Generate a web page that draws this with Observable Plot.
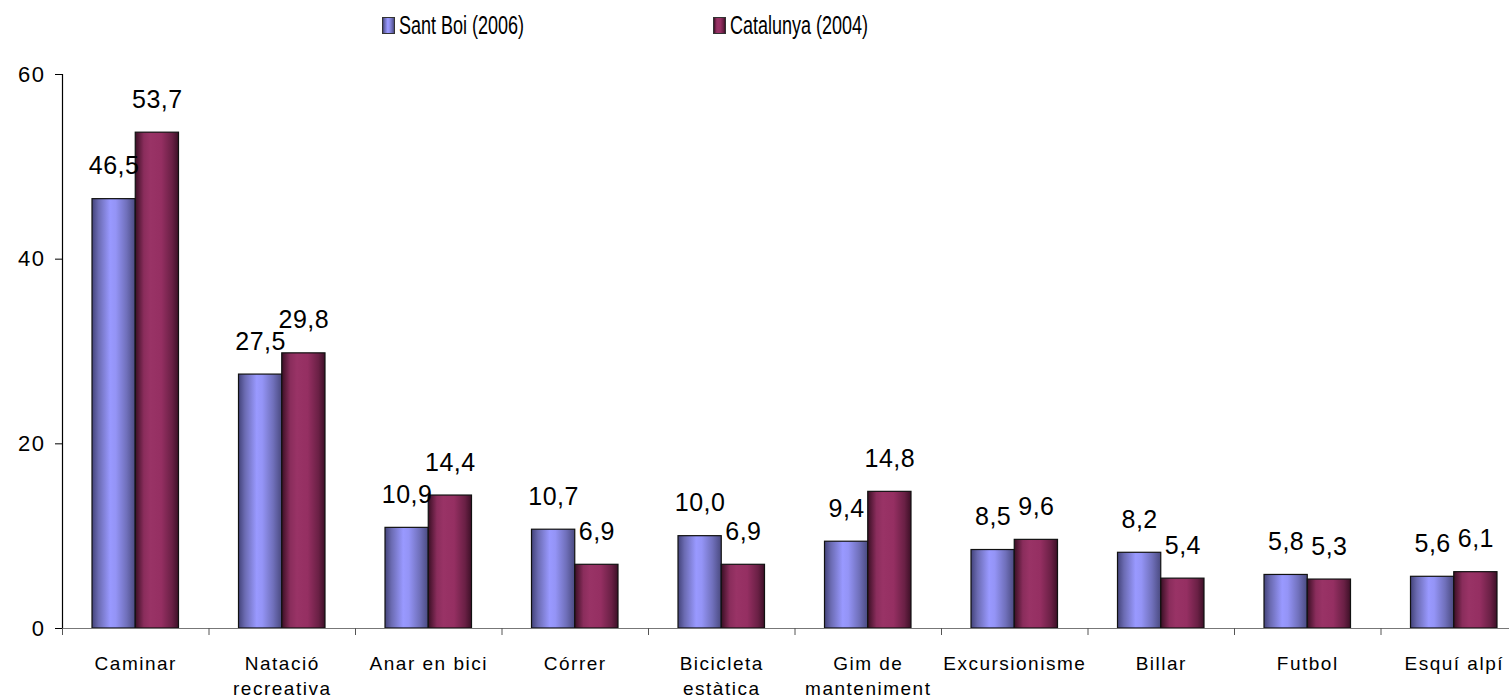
<!DOCTYPE html>
<html>
<head>
<meta charset="utf-8">
<script src="https://cdn.jsdelivr.net/npm/d3@7"></script>
<script src="https://cdn.jsdelivr.net/npm/@observablehq/plot@0.6"></script>
<style>
  html, body { margin: 0; padding: 0; background: #fff; overflow: hidden; }
  body { font-family: "Liberation Sans", Arial, sans-serif; }
  #legend { position: relative; width: 1509px; height: 48px; }
  .lg-item { position: absolute; top: 11px; display: flex; align-items: center; }
  .lg-sw { width: 13px; height: 17px; border: 1px solid #333; box-sizing: border-box; margin-right: 4px; }
  .lg-tx { font-family: "Liberation Sans", Arial, sans-serif; font-size: 25px; color: #000; line-height: 28px;
           transform: scaleX(0.72); transform-origin: left center; white-space: nowrap; }
  #chart svg { max-width: none; overflow: hidden; }
  g[aria-label="x-axis tick label"] text { letter-spacing: 1.5px; }
  g[aria-label="y-axis tick label"] text { letter-spacing: 1.5px; }
  g.vlab text { letter-spacing: 0.5px; }
</style>
</head>
<body>
<div id="legend"></div>
<div id="chart"></div>
<script>
// ---- data ----
const categories = ["Caminar", "Natació\nrecreativa", "Anar en bici", "Córrer", "Bicicleta\nestàtica",
                    "Gim de\nmanteniment", "Excursionisme", "Billar", "Futbol", "Esquí alpí"];
const seriesNames = ["Sant Boi (2006)", "Catalunya (2004)"];
const santBoi   = [46.5, 27.5, 10.9, 10.7, 10.0, 9.4, 8.5, 8.2, 5.8, 5.6];
const catalunya = [53.7, 29.8, 14.4, 6.9, 6.9, 14.8, 9.6, 5.4, 5.3, 6.1];
const yTicks = [0, 20, 40, 60];

// ---- layout ----
const W = 1509, H = 651, mL = 62, mR = -18, mT = 26, mB = 71;
const bw = (W - mL - mR) / categories.length;   // band width
const pad = bw * 0.2048;                         // outer gap per side
const barW = bw / 2 - pad;

const rows = categories.map((c, i) => ({category: c, santBoi: santBoi[i], catalunya: catalunya[i]}));
const fmt = v => v.toFixed(1).replace(".", ",");

const grads = {
  gBlue: [[0, "#43437a"], [0.15, "#6b6bb2"], [0.42, "#9999ff"], [0.55, "#9494f6"], [0.8, "#7070bb"], [1, "#4a4a80"]],
  gMaroon: [[0, "#3a0f24"], [0.2, "#8a2d5c"], [0.35, "#993366"], [0.6, "#952f62"], [0.85, "#6a2045"], [1, "#3d1027"]]
};

// legend (HTML, above the svg)
const legend = d3.select("#legend");
const legendX = [382, 713];
seriesNames.forEach((name, i) => {
  const g = grads[i === 0 ? "gBlue" : "gMaroon"];
  const css = "linear-gradient(to right," + g.map(([o, c]) => `${c} ${o * 100}%`).join(",") + ")";
  const item = legend.append("div").attr("class", "lg-item").style("left", legendX[i] + "px");
  item.append("div").attr("class", "lg-sw").style("background", css);
  item.append("div").attr("class", "lg-tx").text(name);
});

function defsMark() {
  const defs = d3.create("svg:defs");
  for (const [id, stops] of Object.entries(grads)) {
    const lg = defs.append("linearGradient").attr("id", id).attr("x1", "0").attr("x2", "1").attr("y1", "0").attr("y2", "0");
    for (const [o, c] of stops) lg.append("stop").attr("offset", o).attr("stop-color", c);
  }
  return defs.node();
}

const chart = Plot.plot({
  width: W, height: H,
  marginLeft: mL, marginRight: mR, marginTop: mT, marginBottom: mB,
  style: {fontFamily: "'Liberation Sans', Arial, sans-serif", background: "#fff", color: "#000", overflow: "hidden"},
  x: {domain: categories, padding: 0, round: false, axis: null},
  y: {domain: [0, 60], axis: null},
  marks: [
    defsMark,
    Plot.barY(rows, {x: "category", y: "santBoi", fill: "url(#gBlue)", stroke: "#111", strokeWidth: 1.2,
                     insetLeft: pad, insetRight: bw / 2}),
    Plot.barY(rows, {x: "category", y: "catalunya", fill: "url(#gMaroon)", stroke: "#111", strokeWidth: 1.2,
                     insetLeft: bw / 2, insetRight: pad}),
    Plot.ruleY([0], {stroke: "#777", strokeWidth: 1.2}),
    Plot.ruleX([categories[0]], {y1: 0, y2: 60, dx: -bw / 2, stroke: "#000", strokeWidth: 1.2}),
    Plot.axisY(yTicks, {tickSize: 7, tickPadding: 10, fontSize: 22, tickFormat: d => String(d), label: null, stroke: "#000"}),
    Plot.axisX(categories, {tickSize: 7, tickFormat: () => "", dx: -bw / 2, label: null, stroke: "#555"}),
    Plot.axisX({tickSize: 0, tickPadding: 24, fontSize: 19, lineHeight: 1.32, label: null}),
    Plot.text(rows, {x: "category", y: "santBoi", text: d => fmt(d.santBoi), dx: -barW / 2, dy: -33,
                     fontSize: 25, fill: "#000"}),
    Plot.text(rows, {x: "category", y: "catalunya", text: d => fmt(d.catalunya), dx: barW / 2, dy: -33,
                     fontSize: 25, fill: "#000"})
  ]
});
document.getElementById("chart").appendChild(chart);
// letter spacing for value labels
d3.select(chart).selectAll('g[aria-label="text"]').classed("vlab", true);
</script>
</body>
</html>
